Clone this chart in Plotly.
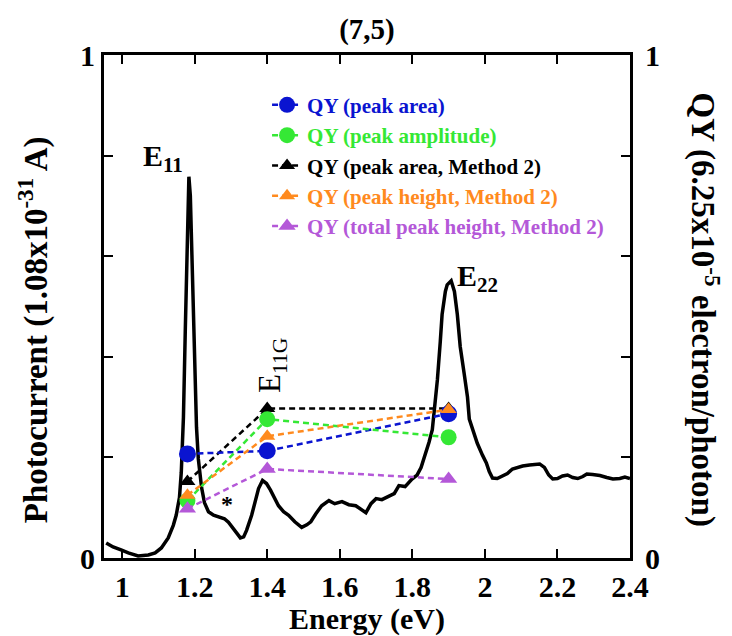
import plotly.graph_objects as go

# ---------------- data ----------------
energy = [0.956, 0.975, 0.997, 1.017, 1.044, 1.072, 1.091, 1.108, 1.127, 1.141,
          1.149, 1.158, 1.163, 1.169, 1.174, 1.180, 1.184, 1.188, 1.194, 1.199,
          1.205, 1.210, 1.219, 1.227, 1.238, 1.252, 1.271, 1.282, 1.293, 1.307,
          1.315, 1.326, 1.335, 1.343, 1.357, 1.368, 1.376, 1.387, 1.398, 1.409,
          1.420, 1.431, 1.445, 1.459, 1.476, 1.495, 1.509, 1.520, 1.534, 1.550,
          1.570, 1.586, 1.606, 1.625, 1.644, 1.658, 1.672, 1.686, 1.700, 1.716,
          1.736, 1.750, 1.763, 1.780, 1.799, 1.813, 1.824, 1.838, 1.846, 1.855,
          1.863, 1.869, 1.877, 1.882, 1.891, 1.896, 1.907, 1.916, 1.924, 1.932,
          1.943, 1.952, 1.957, 1.968, 1.979, 1.993, 2.004, 2.012, 2.021, 2.034,
          2.048, 2.062, 2.076, 2.090, 2.104, 2.123, 2.151, 2.164, 2.176, 2.187,
          2.200, 2.214, 2.228, 2.242, 2.256, 2.270, 2.281, 2.297, 2.317, 2.336,
          2.353, 2.372, 2.386, 2.400]
photocurrent = [0.030, 0.022, 0.016, 0.010, 0.004, 0.006, 0.010, 0.020, 0.040, 0.065,
                0.085, 0.120, 0.170, 0.280, 0.450, 0.650, 0.758, 0.720, 0.550, 0.380,
                0.260, 0.197, 0.140, 0.110, 0.092, 0.085, 0.080, 0.078, 0.071, 0.058,
                0.049, 0.040, 0.042, 0.055, 0.085, 0.115, 0.138, 0.154, 0.148, 0.135,
                0.118, 0.104, 0.092, 0.085, 0.072, 0.061, 0.066, 0.072, 0.088, 0.104,
                0.114, 0.108, 0.112, 0.106, 0.104, 0.098, 0.090, 0.108, 0.118, 0.116,
                0.124, 0.128, 0.144, 0.142, 0.157, 0.165, 0.180, 0.209, 0.230, 0.255,
                0.310, 0.354, 0.430, 0.484, 0.530, 0.543, 0.551, 0.530, 0.484, 0.420,
                0.366, 0.320, 0.276, 0.250, 0.228, 0.205, 0.189, 0.172, 0.159, 0.158,
                0.163, 0.168, 0.177, 0.180, 0.183, 0.185, 0.187, 0.180, 0.165, 0.157,
                0.158, 0.163, 0.165, 0.160, 0.158, 0.162, 0.167, 0.166, 0.164, 0.160,
                0.157, 0.158, 0.161, 0.158]

qy_energy = [1.18, 1.40, 1.90]
qy_peak_area = [0.207, 0.213, 0.287]
qy_peak_amplitude = [0.114, 0.276, 0.240]
qy_peak_area_m2 = [0.152, 0.297, 0.297]
qy_peak_height_m2 = [0.125, 0.242, 0.295]
qy_total_height_m2 = [0.098, 0.177, 0.157]

x_ticks = [1.0, 1.2, 1.4, 1.6, 1.8, 2.0, 2.2, 2.4]
x_tick_labels = ["1", "1.2", "1.4", "1.6", "1.8", "2", "2.2", "2.4"]
y_ticks = [0, 0.2, 0.4, 0.6, 0.8, 1.0]
y_tick_labels = ["0", "", "", "", "", "1"]

# ---------------- styles ----------------
FONT = "Liberation Serif"
BLUE = "#0a14d0"
GREEN = "#35e835"
BLACK = "#000000"
ORANGE = "#ff8a1e"
PURPLE = "#b458d8"

fig = go.Figure()

fig.add_trace(go.Scatter(x=energy, y=photocurrent, mode="lines",
                         line=dict(color="black", width=3.5), showlegend=False))

series = [
    ("QY (peak area)", qy_peak_area, BLUE, "circle", 17, 1),
    ("QY (peak amplitude)", qy_peak_amplitude, GREEN, "circle", 16, 2),
    ("QY (peak area, Method 2)", qy_peak_area_m2, BLACK, "triangle-up", 14, 3),
    ("QY (peak height, Method 2)", qy_peak_height_m2, ORANGE, "triangle-up", 14, 4),
    ("QY (total peak height, Method 2)", qy_total_height_m2, PURPLE, "triangle-up", 15, 5),
]
draw_order = [2, 0, 1, 3, 4]
for i in draw_order:
    name, vals, col, sym, sz, rank = series[i]
    fig.add_trace(go.Scatter(
        x=qy_energy, y=vals, yaxis="y2", mode="lines+markers",
        name=f"<span style='color:{col}'>{name}</span>",
        legendrank=rank,
        line=dict(color=col, width=2.5, dash="6px,4px"),
        marker=dict(color=col, symbol=sym, size=sz, line=dict(width=0)),
    ))

axis_font = dict(family=FONT, size=30, color="black", weight="bold")

fig.update_layout(
    width=732, height=636,
    margin=dict(l=104, r=102, t=55, b=73),
    paper_bgcolor="white", plot_bgcolor="white",
    font=dict(family=FONT, color="black"),
    title=dict(text="<b>(7,5)</b>", x=0.5, xref="paper", y=1 - 29 / 636, yanchor="middle",
               font=dict(family=FONT, size=29, color="black")),
    xaxis=dict(range=[0.95, 2.4], tickvals=x_ticks, ticktext=x_tick_labels,
               ticks="inside", ticklen=9, tickwidth=2, tickcolor="black",
               showline=True, linewidth=3, linecolor="black", mirror="ticks",
               showgrid=False, zeroline=False, tickfont=axis_font, ticklabelstandoff=0,
               title=dict(text="<b>Energy (eV)</b>", standoff=0,
                          font=dict(family=FONT, size=30, color="black"))),
    yaxis=dict(range=[0, 1], tickvals=y_ticks, ticktext=y_tick_labels,
               ticks="inside", ticklen=9, tickwidth=2, tickcolor="black",
               showline=True, linewidth=3, linecolor="black",
               showgrid=False, zeroline=False, tickfont=axis_font),
    yaxis2=dict(range=[0, 1], tickvals=y_ticks, ticktext=y_tick_labels,
                overlaying="y", side="right",
                ticks="inside", ticklen=9, tickwidth=2, tickcolor="black",
                showline=True, linewidth=3, linecolor="black", ticklabelstandoff=6,
                showgrid=False, zeroline=False, tickfont=axis_font),
    legend=dict(x=0.31, y=1 - 30 / 508, xanchor="left", yanchor="top",
                bgcolor="rgba(0,0,0,0)", borderwidth=0,
                font=dict(family=FONT, size=21, color="black", weight="bold"),
                tracegroupgap=0),
    showlegend=True,
)

annos = [
    dict(x=1.113, y=0.795, text="E<sub>11</sub>", font=dict(size=30, weight="bold")),
    dict(x=1.979, y=0.557, text="E<sub>22</sub>", font=dict(size=30, weight="bold")),
    dict(x=1.415, y=0.383, text="E<sub>11G</sub>", textangle=-90, font=dict(size=31)),
    dict(x=1.288, y=0.108, text="*", font=dict(size=24, weight="bold")),
]
for a in annos:
    a.update(xref="x", yref="y", showarrow=False, xanchor="center", yanchor="middle")
    a["font"].update(family=FONT, color="black")
    fig.add_annotation(**a)

fig.add_annotation(text="<b>Photocurrent (1.08x10<sup>-31</sup> A)</b>", xref="paper", yref="paper",
                   x=-(104 - 33) / 526, y=(563 - 333) / 508, textangle=-90, showarrow=False,
                   xanchor="center", yanchor="middle",
                   font=dict(family=FONT, size=33, color="black"))
fig.add_annotation(text="<b>QY (6.25x10<sup>-5</sup> electron/photon)</b>", xref="paper", yref="paper",
                   x=1 + (705 - 630) / 526, y=(563 - 312) / 508, textangle=90, showarrow=False,
                   xanchor="center", yanchor="middle",
                   font=dict(family=FONT, size=33, color="black"))

fig.write_html("out.html")
